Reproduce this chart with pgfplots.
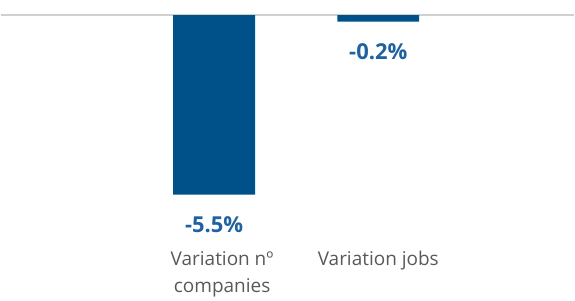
\documentclass[border=0pt]{standalone}
\usepackage{pgfplots}
\pgfplotsset{compat=1.18}
\usepackage{fontspec}
\setmainfont{Open Sans}
\definecolor{barblue}{HTML}{00518A}
\definecolor{lblblue}{HTML}{1F62A0}
\definecolor{catgray}{HTML}{595959}
\definecolor{linegray}{HTML}{D0D0D0}
\begin{document}
\begin{tikzpicture}
\begin{axis}[
  scale only axis,
  width=575pt, height=296pt,
  xmin=-1.301, xmax=2.195,
  ymin=-8.59, ymax=0.46,
  axis lines=none,
  ticks=none,
  clip=false,
  ybar, bar width=82pt,
  bar shift=0pt,
  point meta=explicit symbolic,
  nodes near coords,
  every node near coord/.append style={font=\fontsize{22}{26}\selectfont\bfseries, text=lblblue, anchor=center, yshift=-30pt},
]
\path (rel axis cs:0,0) rectangle (rel axis cs:1,1);
\draw[linegray, line width=1.2pt] (axis cs:-1.301,0) -- (axis cs:2.195,0);
\addplot[fill=barblue, draw=none] coordinates {(0,-5.5) [-5.5\%] (1,-0.2) [-0.2\%]};
\node[text=catgray, font=\fontsize{19}{27}\selectfont, align=center, anchor=center, xshift=8pt] at (axis cs:0,-7.95) {Variation nº\\companies};
\node[text=catgray, font=\fontsize{19}{27}\selectfont, anchor=center] at (axis cs:1,-7.52) {Variation jobs};
\end{axis}
\end{tikzpicture}
\end{document}
